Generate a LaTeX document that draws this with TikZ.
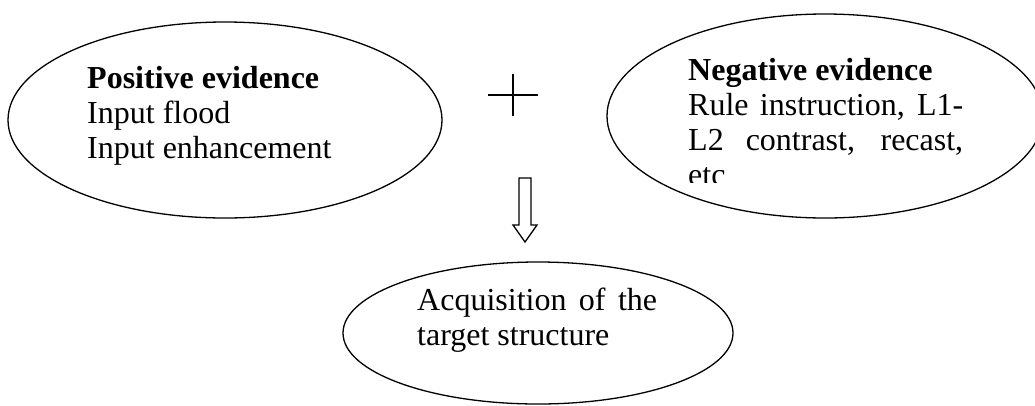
\documentclass[tikz,border=0pt]{standalone}
\usepackage{fontspec}
\setmainfont{Liberation Serif}
\usetikzlibrary{shapes.geometric}
\tikzset{
  oval/.style={draw, ellipse, line width=1.3pt, inner sep=0pt},
  txt/.style={inner sep=0pt, anchor=north west, font=\fontsize{32}{35}\selectfont},
  thinline/.style={line width=1.3pt}
}
\begin{document}
\begin{tikzpicture}[x=1pt,y=-1pt]
\useasboundingbox (0,0) rectangle (1035,405);
\clip (0,0) rectangle (1035,405);
% ellipses
\node[oval, minimum width=434pt, minimum height=196pt] (pos) at (225,120) {};
\node[oval, minimum width=436pt, minimum height=204pt] (neg) at (825,116) {};
\node[oval, minimum width=390pt, minimum height=142pt] (acq) at (538,333) {};
% texts
\node[txt, align=left] (postxt) at (87,63.5) {\strut\textbf{Positive evidence}\\Input flood\\Input enhancement};
\begin{scope}
\clip (0,0) rectangle (1035,182);
\node[txt, text width=275pt, align=justify] (negtxt) at (688,55.5) {\strut\textbf{Negative evidence}\newline Rule instruction, L1-\linebreak L2 contrast, recast,\linebreak etc};
\end{scope}
\node[txt, text width=240pt, align=justify] (acqtxt) at (417,285.5) {\strut Acquisition of the\linebreak target structure};
% plus sign
\coordinate (pc) at (513,95);
\draw[thinline] ([xshift=-25pt]pc) -- ([xshift=25pt]pc);
\draw[thinline] ([yshift=-21pt]pc) -- ([yshift=21pt]pc);
% hollow down arrow
\draw[line width=1.3pt, line join=miter] (519,178) -- (531,178) -- (531,225) -- (537,225) -- (525,242) -- (513,225) -- (519,225) -- cycle;
\end{tikzpicture}
\end{document}
